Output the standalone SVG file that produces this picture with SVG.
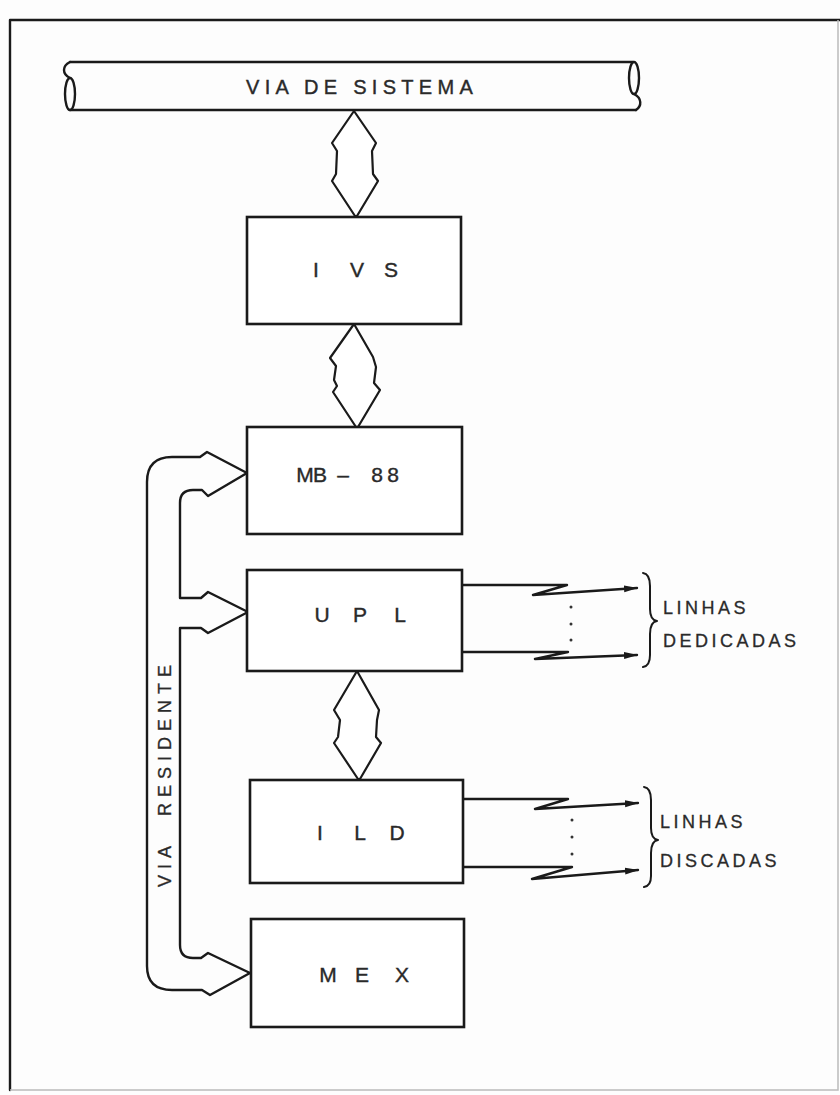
<svg xmlns="http://www.w3.org/2000/svg" width="840" height="1095" viewBox="0 0 840 1095">
<style>
.ln{fill:none;stroke:#1a1a1a;stroke-width:2.4;stroke-linejoin:round;stroke-linecap:round}
.box{fill:#fff;stroke:#1a1a1a;stroke-width:2.6}
.dbl{fill:#fff;stroke:#1a1a1a;stroke-width:2.2;stroke-linejoin:round}
.t{font-family:"Liberation Sans",Arial,sans-serif;fill:#2a2a2a;font-size:21px;text-anchor:middle;stroke:#2a2a2a;stroke-width:0.4}
.lbl{font-family:"Liberation Sans",Arial,sans-serif;fill:#2a2a2a;font-size:18px;letter-spacing:3.5px;stroke:#2a2a2a;stroke-width:0.3}
.dot{fill:#333}
</style>
<defs>
<marker id="ah" viewBox="0 0 14 8" refX="13" refY="4" markerWidth="14" markerHeight="8" markerUnits="userSpaceOnUse" orient="auto">
<path d="M0,0.5 L14,4 L0,7.5 Z" fill="#1a1a1a"/>
</marker>
</defs>
<rect x="0" y="0" width="840" height="1095" fill="#fdfdfd"/>
<g id="frame">
<path class="ln" d="M10,1090 V20 H840"/>
<path d="M10,1090 H838 V20" fill="none" stroke="#bbb" stroke-width="1.5"/>
</g>
<g id="via-sistema">
<path class="ln" d="M70,62 H633"/>
<path class="ln" d="M70,110 H636"/>
<path class="ln" d="M70,62 C62,66 62,74 70,78"/>
<ellipse cx="70" cy="94" rx="5" ry="16" class="ln"/>
<ellipse cx="634" cy="78" rx="5" ry="16" class="ln"/>
<path class="ln" d="M634,94 C642,98 642,106 636,110"/>
<text class="t" x="246" y="94" style="text-anchor:start;font-size:20px;letter-spacing:5.3px">VIA DE SISTEMA</text>
</g>
<g id="connectors">
<path class="dbl" d="M354,111 L332,143 L337,151 L336,174 L332,181 L355,216 L357,216 L378,181 L373,174 L372,151 L376,143 Z"/>
<path class="dbl" d="M354,324 L330,358 L336,366 L334,380 L337,386 L333,392 L356,427 L358,427 L380,390 L374,383 L376,367 L373,357 Z"/>
<path class="dbl" d="M357,671 L334,710 L340,720 L338,737 L334,743 L358,779 L360,779 L381,743 L376,737 L377,720 L379,710 Z"/>
<path class="ln" d="M247,473 L207,452 L200,457 L172,457 Q147,457 147,482 L147,966 Q147,990 172,990 L202,990 L210,995 L250,973"/>
<path class="ln" d="M247,473 L208,496 L202,490 L193,490 Q180,490 180,503 L180,598 L201,598 L208,592 L248,612"/>
<path class="ln" d="M248,612 L208,633 L201,628 L180,628 L180,945 Q180,958 193,958 L201,958 L208,953 L250,973"/>
<path class="ln" d="M463,585 H567 L533,595 L637,588" marker-end="url(#ah)"/>
<path class="ln" d="M463,652 H568 L535,659 L637,655" marker-end="url(#ah)"/>
<path class="ln" d="M464,799 H568 L535,809 L638,803" marker-end="url(#ah)"/>
<path class="ln" d="M464,867 H572 L532,879 L638,870" marker-end="url(#ah)"/>
<circle class="dot" cx="571" cy="607" r="1.5"/>
<circle class="dot" cx="571" cy="624" r="1.5"/>
<circle class="dot" cx="571" cy="640" r="1.5"/>
<circle class="dot" cx="572" cy="820" r="1.5"/>
<circle class="dot" cx="572" cy="837" r="1.5"/>
<circle class="dot" cx="572" cy="854" r="1.5"/>
<path class="ln" d="M643,573 Q650,574 650,586 L650,609 Q650,620 657,621 Q650,622 650,634 L650,655 Q650,666 643,667" style="stroke-width:2"/>
<path class="ln" d="M644,787 Q651,788 651,800 L651,828 Q651,839 658,840 Q651,841 651,853 L651,876 Q651,886 644,887" style="stroke-width:2"/>
<text class="lbl" transform="translate(171,887) rotate(-90)" x="0" y="0" style="letter-spacing:6px;word-spacing:14px">VIA RESIDENTE</text>
</g>
<g id="lbl-dedicadas">
<text class="lbl" x="663" y="614">LINHAS</text>
<text class="lbl" x="663" y="647">DEDICADAS</text>
</g>
<g id="lbl-discadas">
<text class="lbl" x="660" y="828">LINHAS</text>
<text class="lbl" x="660" y="867">DISCADAS</text>
</g>
<g id="ivs">
<rect class="box" x="247" y="217" width="214" height="107"/>
<text class="t" x="316 336 357 374 391" y="277">I V S</text>
</g>
<g id="mb88">
<rect class="box" x="247" y="427" width="215" height="107"/>
<text class="t" x="305 320 330 343 360 377 393" y="482">MB – 88</text>
</g>
<g id="upl">
<rect class="box" x="247" y="570" width="215" height="101"/>
<text class="t" x="322 341 360 380 400" y="622">U P L</text>
</g>
<g id="ild">
<rect class="box" x="250" y="780" width="213" height="103"/>
<text class="t" x="320 340 360 378 397" y="840">I L D</text>
</g>
<g id="mex">
<rect class="box" x="251" y="919" width="213" height="108"/>
<text class="t" x="328 345 362 382 402" y="982">M E X</text>
</g>
</svg>
